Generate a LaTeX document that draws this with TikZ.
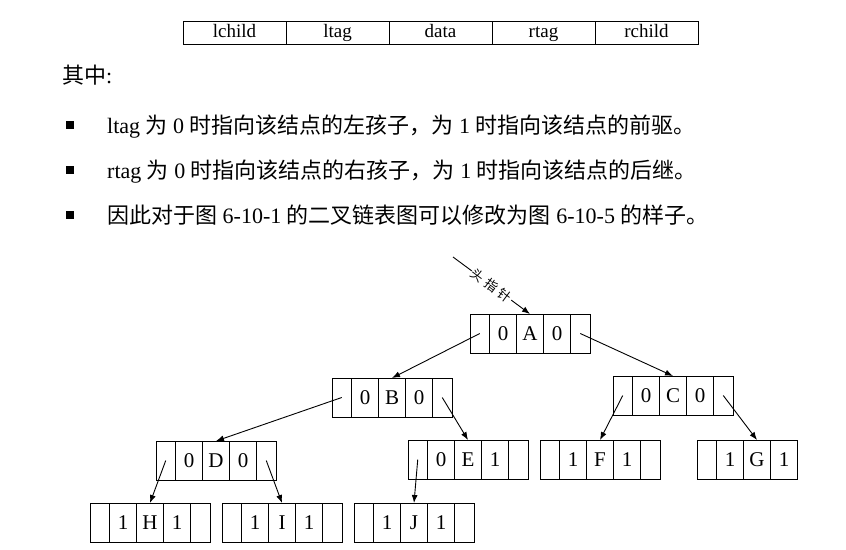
\documentclass[tikz,border=0pt]{standalone}
\usepackage{fontspec}
\setmainfont{Liberation Serif}
\newfontfamily\cjk{Noto Sans CJK SC}
\newfontfamily\cjkwide[LetterSpace=30]{Noto Sans CJK SC}
\usetikzlibrary{arrows.meta}

% one record of the threaded binary list: lchild | ltag | data | rtag | rchild
\newcommand\listrec[6]{%
  \node[pcell, anchor=north west] (#1l) at (#2,#3) {};
  \node[vcell, anchor=west] (#1lt) at (#1l.east) {#4};
  \node[vcell, anchor=west] (#1d) at (#1lt.east) {#5};
  \node[vcell, anchor=west] (#1rt) at (#1d.east) {#6};
  \node[pcell, anchor=west] (#1r) at (#1rt.east) {};
}

\begin{document}
\begin{tikzpicture}[x=1pt, y=-1pt,
  hcell/.style={draw, line width=1pt, minimum width=103pt, minimum height=23pt,
    inner sep=0pt, outer sep=0pt, text height=13.5pt, text depth=3.5pt,
    font=\fontsize{19}{19}\selectfont},
  pcell/.style={draw, line width=1pt, minimum width=19.5pt, minimum height=39pt,
    inner sep=0pt, outer sep=0pt},
  vcell/.style={draw, line width=1pt, minimum width=27pt, minimum height=39pt,
    inner sep=0pt, outer sep=0pt, text height=14pt, text depth=0pt,
    font=\fontsize{21}{21}\selectfont},
  body/.style={anchor=base west, inner sep=0pt, font=\fontsize{22}{26}\selectfont},
  bullet/.style={fill=black, minimum size=7.5pt, inner sep=0pt},
  ptr/.style={line width=0.9pt, -{Latex[length=8pt, width=6pt]}}
]
\useasboundingbox (0,0) rectangle (846,549);

% field layout of a record
\node[hcell, anchor=north west] (h1) at (183,21) {lchild};
\node[hcell, anchor=west] (h2) at (h1.east) {ltag};
\node[hcell, anchor=west] (h3) at (h2.east) {data};
\node[hcell, anchor=west] (h4) at (h3.east) {rtag};
\node[hcell, anchor=west] (h5) at (h4.east) {rchild};

% explanation
\node[body] (intro) at (62,83) {{\cjk 其中}:};
\node[bullet] (b1) at (70,125) {};
\node[bullet] (b2) at (70,170) {};
\node[bullet] (b3) at (70,215) {};
\node[body] (t1) at (107,133.5) {ltag {\cjk 为} 0 {\cjk 时指向该结点的左孩子，为} 1 {\cjk 时指向该结点的前驱。}};
\node[body] (t2) at (107,178.5) {rtag {\cjk 为} 0 {\cjk 时指向该结点的右孩子，为} 1 {\cjk 时指向该结点的后继。}};
\node[body] (t3) at (107,223.5) {{\cjk 因此对于图} 6-10-1 {\cjk 的二叉链表图可以修改为图} 6-10-5 {\cjk 的样子。}};

% records of the tree
\listrec{A}{470}{314}{0}{A}{0}
\listrec{B}{332}{378}{0}{B}{0}
\listrec{C}{613}{376}{0}{C}{0}
\listrec{D}{156}{441}{0}{D}{0}
\listrec{E}{408}{440}{0}{E}{1}
\listrec{F}{540}{440}{1}{F}{1}
\listrec{H}{90}{503}{1}{H}{1}
\listrec{I}{222}{503}{1}{I}{1}
\listrec{J}{354}{503}{1}{J}{1}
% record G is drawn without its rchild field
\node[pcell, anchor=north west] (Gl) at (697,440) {};
\node[vcell, anchor=west] (Glt) at (Gl.east) {1};
\node[vcell, anchor=west] (Gd) at (Glt.east) {G};
\node[vcell, anchor=west] (Grt) at (Gd.east) {1};

% head pointer
\coordinate (head) at (453,257);
\draw[ptr] (head) -- (Ad.north)
  node[midway, sloped, fill=white, inner sep=1pt, font=\cjkwide\fontsize{13}{13}\selectfont] (hlabel) {头指针};

% child links
\draw[ptr] (Al.center) -- (Bd.north);
\draw[ptr] (Ar.center) -- (Cd.north);
\draw[ptr] (Bl.center) -- (Dd.north);
\draw[ptr] (Br.center) -- (Ed.north);
\draw[ptr] (Cl.center) -- (Fd.north);
\draw[ptr] (Cr.center) -- (Gd.north);
\draw[ptr] (Dl.center) -- (Hd.north);
\draw[ptr] (Dr.center) -- (Id.north);
\draw[ptr] (El.center) -- (Jd.north);
\end{tikzpicture}
\end{document}
